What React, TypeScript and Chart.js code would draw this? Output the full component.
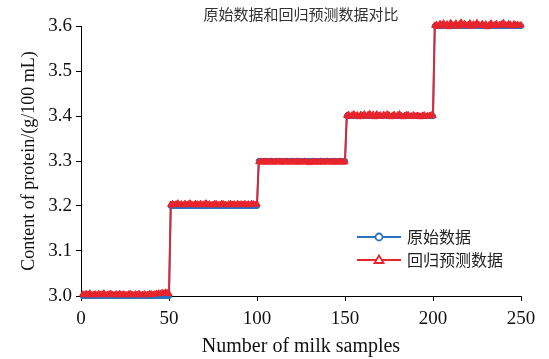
import React, { useEffect, useRef } from "react";
import { Chart, registerables } from "chart.js";

Chart.register(...registerables);

const titleText = "原始数据和回归预测数据对比";
const seriesNames = ["原始数据", "回归预测数据"];
const xTitle = "Number of milk samples";
const yTitle = "Content of protein/(g/100 mL)";

// protein level of each group of 50 milk samples (original data)
const groupLevels = [3.0, 3.2, 3.3, 3.4, 3.6];
const samplesPerGroup = 50;

// predicted minus original, in thousandths (g/100 mL)
const devGroup1 = [4,2,5,3,6,2,3,4,2,5,3,4,6,2,3,4,5,3,2,4,3,5,2,4,3,2,4,5,3,2,4,3,5,2,3,4,2,3,5,4,3,4,5,6,5,7,6,8,7,5];
const devGroup2 = [3,5,2,4,6,3,4,2,5,3,4,6,3,2,5,4,3,5,2,4,6,3,4,2,3,5,4,2,3,5,4,3,2,4,5,3,4,2,5,3,4,3,5,2,4,3,5,4,3,4];
const devGroup3 = [-2,-1,-3,-2,-1,-3,-2,-1,-2,-3,-1,-2,-1,-3,-2,-2,-1,-3,-2,-1,-2,-3,-1,-2,-3,-2,-1,-2,-3,-4,-2,-1,-3,-2,-3,-1,-2,-3,-2,-1,-2,-3,-2,-1,-3,-2,-1,-2,-3,-2];
const devGroup4 = [1,3,-1,2,4,0,2,-2,3,1,4,-1,2,5,0,3,-2,4,1,2,-1,3,0,4,2,-2,1,3,-1,2,4,0,-2,1,3,2,-1,0,2,-1,1,0,-2,1,2,-1,0,1,2,0];
const devGroup5 = [1,3,-1,5,2,6,0,4,-2,7,3,1,6,-1,4,8,2,5,0,3,6,-1,4,2,7,3,0,5,1,4,-2,3,6,1,2,5,0,3,4,7,2,1,5,3,0,4,2,3,1,2];
const deviations = [devGroup1, devGroup2, devGroup3, devGroup4, devGroup5];

const xTicks = [0, 50, 100, 150, 200, 250];
const yTicks = [3.0, 3.1, 3.2, 3.3, 3.4, 3.5, 3.6];

const BLUE = "#2a70c0";
const RED = "#e8242c";
const SERIF = "'Liberation Serif', 'DejaVu Serif', serif";
const CJK = "'Noto Sans CJK SC', sans-serif";

const original: { x: number; y: number }[] = [];
const predicted: { x: number; y: number }[] = [];
groupLevels.forEach((lvl, g) => {
  for (let i = 0; i < samplesPerGroup; i++) {
    const x = g * samplesPerGroup + i + 1;
    original.push({ x, y: lvl });
    predicted.push({ x, y: +(lvl + deviations[g][i] / 1000).toFixed(4) });
  }
});

const overlayPlugin = {
  id: "overlay",
  afterDraw(chart: any) {
    const { ctx, chartArea } = chart;
    ctx.save();
    // title
    ctx.fillStyle = "#333";
    ctx.font = `15px ${CJK}`;
    ctx.textAlign = "center";
    ctx.textBaseline = "middle";
    ctx.fillText(titleText, (chartArea.left + chartArea.right) / 2, 14);
    // legend
    const lx0 = 357, lx1 = 401, tx = 407;
    const rows = [
      { y: 237, color: BLUE, shape: "circle", label: seriesNames[0] },
      { y: 260, color: RED, shape: "triangle", label: seriesNames[1] },
    ];
    rows.forEach((r) => {
      ctx.strokeStyle = r.color;
      ctx.lineWidth = 2;
      ctx.beginPath();
      ctx.moveTo(lx0, r.y);
      ctx.lineTo(lx1, r.y);
      ctx.stroke();
      const cx = (lx0 + lx1) / 2;
      ctx.fillStyle = "#fff";
      ctx.beginPath();
      if (r.shape === "circle") {
        ctx.arc(cx, r.y, 3.5, 0, Math.PI * 2);
      } else {
        ctx.moveTo(cx, r.y - 4.5);
        ctx.lineTo(cx + 4.5, r.y + 3);
        ctx.lineTo(cx - 4.5, r.y + 3);
        ctx.closePath();
      }
      ctx.fill();
      ctx.lineWidth = 1.8;
      ctx.stroke();
      ctx.fillStyle = "#222";
      ctx.font = `16px ${CJK}`;
      ctx.textAlign = "left";
      ctx.textBaseline = "middle";
      ctx.fillText(r.label, tx, r.y);
    });
    ctx.restore();
  },
};

export default function App() {
  const ref = useRef<HTMLCanvasElement>(null);
  useEffect(() => {
    document.body.style.margin = "0";
    const chart = new Chart(ref.current!, {
      type: "line",
      data: {
        datasets: [
          {
            label: seriesNames[0],
            data: original,
            order: 2,
            borderColor: BLUE,
            backgroundColor: BLUE,
            borderWidth: 2,
            pointStyle: "circle",
            pointRadius: 2.6,
            pointBorderWidth: 1,
            pointBackgroundColor: BLUE,
            pointBorderColor: BLUE,
            tension: 0,
            clip: false,
          },
          {
            label: seriesNames[1],
            data: predicted,
            order: 1,
            borderColor: RED,
            backgroundColor: RED,
            borderWidth: 1.8,
            pointStyle: "triangle",
            pointRadius: 3.6,
            pointBorderWidth: 1,
            pointBackgroundColor: RED,
            pointBorderColor: RED,
            tension: 0,
            clip: false,
          },
        ],
      },
      options: {
        animation: false,
        responsive: false,
        maintainAspectRatio: false,
        layout: { padding: { top: 26, right: 28, left: 0, bottom: 0 } },
        plugins: {
          legend: { display: false },
          title: { display: false },
          tooltip: { enabled: false },
        },
        scales: {
          x: {
            type: "linear",
            min: 0,
            max: 250,
            afterBuildTicks: (s: any) => {
              s.ticks = xTicks.map((v) => ({ value: v }));
            },
            afterFit: (s: any) => {
              s.height = 63;
            },
            ticks: {
              font: { family: SERIF, size: 19 },
              color: "#111",
              padding: 7,
              maxRotation: 0,
            },
            grid: { display: true, drawOnChartArea: false, drawTicks: true, tickLength: 5, color: "#000" },
            border: { display: true, color: "#000", width: 1 },
            title: {
              display: true,
              text: xTitle,
              font: { family: SERIF, size: 20 },
              color: "#111",
              padding: { top: 0, bottom: 0 },
            },
          },
          y: {
            type: "linear",
            min: 3.0,
            max: 3.6,
            afterBuildTicks: (s: any) => {
              s.ticks = yTicks.map((v) => ({ value: v }));
            },
            afterFit: (s: any) => {
              s.width = 81;
            },
            ticks: {
              font: { family: SERIF, size: 19 },
              color: "#111",
              padding: 4,
              callback: (v: any) => Number(v).toFixed(1),
            },
            grid: { display: true, drawOnChartArea: false, drawTicks: true, tickLength: 5, color: "#000" },
            border: { display: true, color: "#000", width: 1 },
            title: {
              display: true,
              text: yTitle,
              font: { family: SERIF, size: 18 },
              color: "#111",
              padding: { top: 18, bottom: 0 },
            },
          },
        },
      },
      plugins: [overlayPlugin],
    });
    return () => chart.destroy();
  }, []);
  return (
    <div style={{ position: "absolute", left: 0, top: 0, width: 549, height: 359, background: "#fff" }}>
      <canvas ref={ref} width={549} height={359} style={{ width: 549, height: 359 }} />
    </div>
  );
}
